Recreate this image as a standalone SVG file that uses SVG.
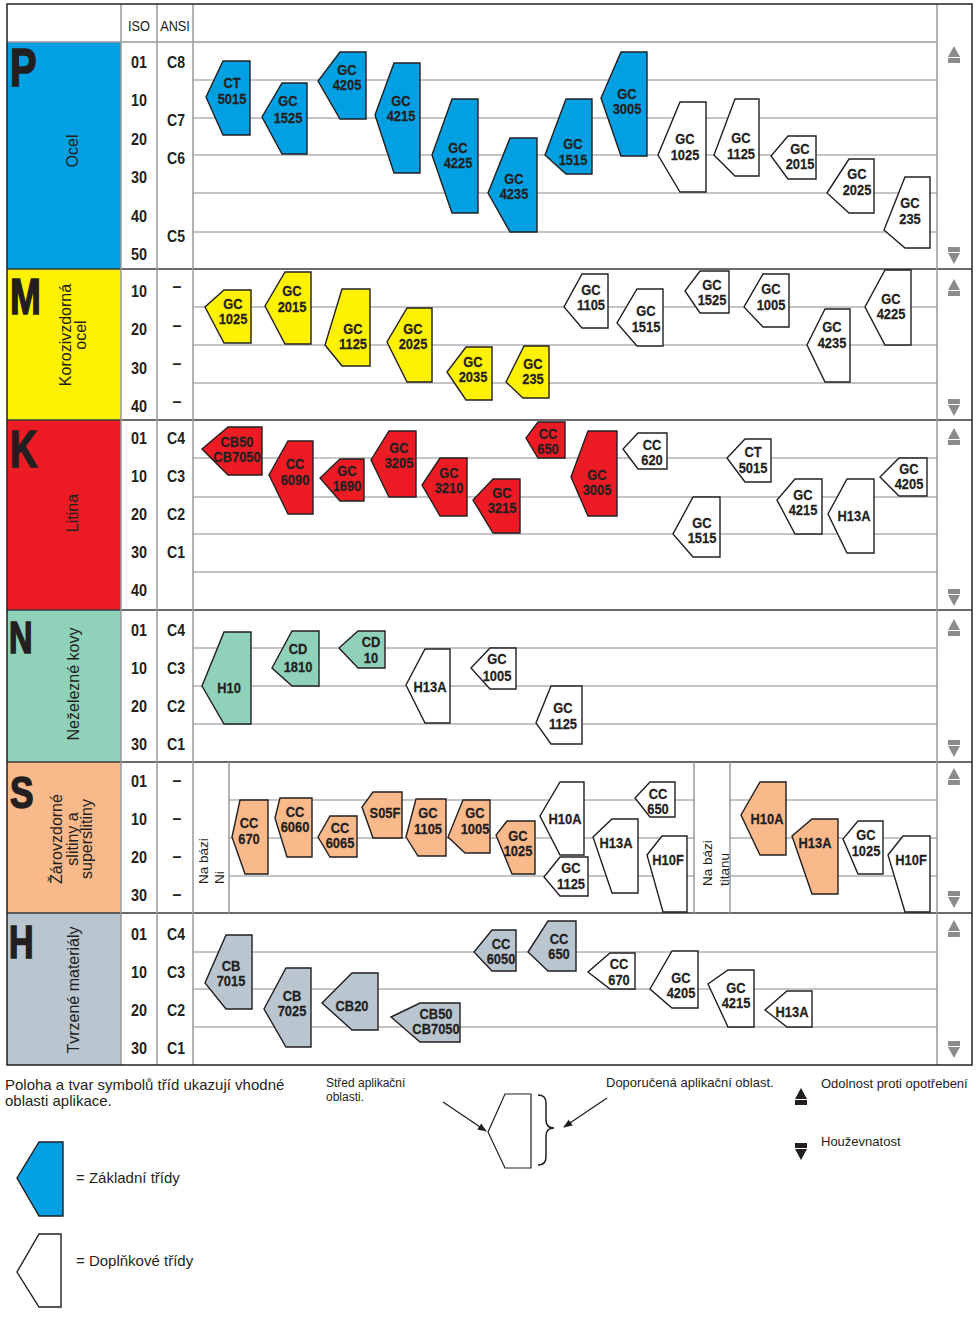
<svg xmlns="http://www.w3.org/2000/svg" width="976" height="1326" viewBox="0 0 976 1326">
<style>
.bg{fill:#fff}
.fr{fill:none;stroke:#231f20;stroke-width:1.5}
.sec{stroke:#3a3a3a;stroke-width:1.3}
.col{stroke:#9a9a9a;stroke-width:1.5}
.gl{stroke:#8a8a8a;stroke-width:1}
.sh{stroke:#231f20;stroke-width:1.4;stroke-linejoin:miter}
.b{fill:#00a0e3}.y{fill:#fff200}.r{fill:#ed1c24}.n{fill:#8fd1b9}.s{fill:#f9b98b}.h{fill:#b9c5cf}.w{fill:#fff}
.t{font-family:"Liberation Sans",Arial,sans-serif;font-weight:700;font-size:15px;fill:#231f20;stroke:#231f20;stroke-width:.25;text-anchor:middle}
.l{font-family:"Liberation Sans",Arial,sans-serif;font-weight:700;font-size:16px;fill:#231f20;text-anchor:middle}
.hd{font-family:"Liberation Sans",Arial,sans-serif;font-size:15px;fill:#231f20;text-anchor:middle}
.big{font-family:"Liberation Sans",Arial,sans-serif;font-weight:900;fill:#231f20;stroke:#231f20;stroke-width:1.6}
.v{font-family:"Liberation Sans",Arial,sans-serif;font-size:16px;fill:#231f20;text-anchor:middle}
.nb{font-family:"Liberation Sans",Arial,sans-serif;font-size:13.5px;fill:#231f20;text-anchor:start}
.lg{font-family:"Liberation Sans",Arial,sans-serif;fill:#231f20}
.ga{fill:#8c8c8c}
.ka{fill:#231f20}
.cn{stroke:#231f20;stroke-width:1.3;fill:none}
</style>
<defs>
<g id="up"><polygon points="0,0 6,11 -6,11"/><rect x="-6" y="12" width="12" height="5"/></g>
<g id="dn"><rect x="-6" y="0" width="12" height="5"/><polygon points="-6,6 6,6 0,17"/></g>
<marker id="ah" viewBox="0 0 10 10" refX="9" refY="5" markerWidth="7" markerHeight="7" orient="auto"><path d="M0,1 L10,5 L0,9 z" fill="#231f20"/></marker>
</defs>
<rect class="bg" x="0" y="0" width="976" height="1326"/>

<g id="frame">
<rect x="7" y="42" width="114" height="227" class="b"/>
<rect x="7" y="269" width="114" height="151" class="y"/>
<rect x="7" y="420" width="114" height="190" class="r"/>
<rect x="7" y="610" width="114" height="152" class="n"/>
<rect x="7" y="762" width="114" height="151" class="s"/>
<rect x="7" y="913" width="114" height="152" class="h"/>
<line x1="7" y1="42" x2="937" y2="42" class="col"/>
<line x1="7" y1="269" x2="972" y2="269" class="sec"/>
<line x1="7" y1="420" x2="972" y2="420" class="sec"/>
<line x1="7" y1="610" x2="972" y2="610" class="sec"/>
<line x1="7" y1="762" x2="972" y2="762" class="sec"/>
<line x1="7" y1="913" x2="972" y2="913" class="sec"/>
<line x1="121" y1="4" x2="121" y2="1065" class="col"/>
<line x1="157" y1="4" x2="157" y2="1065" class="col"/>
<line x1="193" y1="4" x2="193" y2="1065" class="col"/>
<line x1="937" y1="4" x2="937" y2="1065" class="col"/>
<line x1="229" y1="762" x2="229" y2="913" class="col"/>
<line x1="694" y1="762" x2="694" y2="913" class="col"/>
<line x1="730" y1="762" x2="730" y2="913" class="col"/>
<rect x="7" y="4" width="965" height="1061" class="fr"/>
</g>

<g id="grid">
<line x1="193" y1="80" x2="937" y2="80" class="gl"/>
<line x1="193" y1="118" x2="937" y2="118" class="gl"/>
<line x1="193" y1="155" x2="937" y2="155" class="gl"/>
<line x1="193" y1="193" x2="937" y2="193" class="gl"/>
<line x1="193" y1="232" x2="937" y2="232" class="gl"/>
<line x1="193" y1="307" x2="937" y2="307" class="gl"/>
<line x1="193" y1="345" x2="937" y2="345" class="gl"/>
<line x1="193" y1="383" x2="937" y2="383" class="gl"/>
<line x1="193" y1="458" x2="937" y2="458" class="gl"/>
<line x1="193" y1="497" x2="937" y2="497" class="gl"/>
<line x1="193" y1="534" x2="937" y2="534" class="gl"/>
<line x1="193" y1="572" x2="937" y2="572" class="gl"/>
<line x1="193" y1="648" x2="937" y2="648" class="gl"/>
<line x1="193" y1="686" x2="937" y2="686" class="gl"/>
<line x1="193" y1="724" x2="937" y2="724" class="gl"/>
<line x1="229" y1="800" x2="694" y2="800" class="gl"/>
<line x1="229" y1="838" x2="694" y2="838" class="gl"/>
<line x1="229" y1="876" x2="694" y2="876" class="gl"/>
<line x1="730" y1="800" x2="937" y2="800" class="gl"/>
<line x1="730" y1="838" x2="937" y2="838" class="gl"/>
<line x1="730" y1="876" x2="937" y2="876" class="gl"/>
<line x1="193" y1="952" x2="937" y2="952" class="gl"/>
<line x1="193" y1="989" x2="937" y2="989" class="gl"/>
<line x1="193" y1="1027" x2="937" y2="1027" class="gl"/>
</g>

<g id="header">
<text class="hd" transform="translate(139,30.5) scale(.85 1)">ISO</text>
<text class="hd" transform="translate(175,30.5) scale(.85 1)">ANSI</text>
</g>

<g id="materials">
<text class="big" font-size="54" transform="translate(10,86) scale(.74 1)">P</text>
<text class="big" font-size="50" transform="translate(10,314) scale(.74 1)">M</text>
<text class="big" font-size="51" transform="translate(10,467) scale(.74 1)">K</text>
<text class="big" font-size="44" transform="translate(9,653) scale(.74 1)">N</text>
<text class="big" font-size="44" transform="translate(10,808) scale(.8 1)">S</text>
<text class="big" font-size="46" transform="translate(9,958) scale(.74 1)">H</text>
<text class="v" transform="translate(78,151) rotate(-90)">Ocel</text>
<text class="v" transform="translate(71,335) rotate(-90)">Korozivzdorná</text>
<text class="v" transform="translate(86,335) rotate(-90)">ocel</text>
<text class="v" transform="translate(78,513) rotate(-90)">Litina</text>
<text class="v" transform="translate(79,684) rotate(-90)">Neželezné kovy</text>
<text class="v" transform="translate(62,839) rotate(-90)">Žárovzdorné</text>
<text class="v" transform="translate(77.5,839) rotate(-90)">slitiny a</text>
<text class="v" transform="translate(92,839) rotate(-90)">superslitiny</text>
<text class="v" transform="translate(79,990) rotate(-90)">Tvrzené materiály</text>
<text class="nb" transform="translate(208,884) rotate(-90)">Na bázi</text>
<text class="nb" transform="translate(224,884) rotate(-90)">Ni</text>
<text class="nb" transform="translate(712,886) rotate(-90)">Na bázi</text>
<text class="nb" transform="translate(729,886) rotate(-90)">titanu</text>
</g>

<g id="scale">
<text class="l" transform="translate(139,68) scale(.9 1)">01</text>
<text class="l" transform="translate(139,106) scale(.9 1)">10</text>
<text class="l" transform="translate(139,145) scale(.9 1)">20</text>
<text class="l" transform="translate(139,183) scale(.9 1)">30</text>
<text class="l" transform="translate(139,222) scale(.9 1)">40</text>
<text class="l" transform="translate(139,260) scale(.9 1)">50</text>
<text class="l" transform="translate(176,68) scale(.88 1)">C8</text>
<text class="l" transform="translate(176,126) scale(.88 1)">C7</text>
<text class="l" transform="translate(176,164) scale(.88 1)">C6</text>
<text class="l" transform="translate(176,242) scale(.88 1)">C5</text>
<text class="l" transform="translate(139,297) scale(.9 1)">10</text>
<text class="l" transform="translate(139,335) scale(.9 1)">20</text>
<text class="l" transform="translate(139,374) scale(.9 1)">30</text>
<text class="l" transform="translate(139,412) scale(.9 1)">40</text>
<text class="l" transform="translate(177,292)">–</text>
<text class="l" transform="translate(177,331)">–</text>
<text class="l" transform="translate(177,369)">–</text>
<text class="l" transform="translate(177,407)">–</text>
<text class="l" transform="translate(139,444) scale(.9 1)">01</text>
<text class="l" transform="translate(139,482) scale(.9 1)">10</text>
<text class="l" transform="translate(139,520) scale(.9 1)">20</text>
<text class="l" transform="translate(139,558) scale(.9 1)">30</text>
<text class="l" transform="translate(139,596) scale(.9 1)">40</text>
<text class="l" transform="translate(176,444) scale(.88 1)">C4</text>
<text class="l" transform="translate(176,482) scale(.88 1)">C3</text>
<text class="l" transform="translate(176,520) scale(.88 1)">C2</text>
<text class="l" transform="translate(176,558) scale(.88 1)">C1</text>
<text class="l" transform="translate(139,636) scale(.9 1)">01</text>
<text class="l" transform="translate(139,674) scale(.9 1)">10</text>
<text class="l" transform="translate(139,712) scale(.9 1)">20</text>
<text class="l" transform="translate(139,750) scale(.9 1)">30</text>
<text class="l" transform="translate(176,636) scale(.88 1)">C4</text>
<text class="l" transform="translate(176,674) scale(.88 1)">C3</text>
<text class="l" transform="translate(176,712) scale(.88 1)">C2</text>
<text class="l" transform="translate(176,750) scale(.88 1)">C1</text>
<text class="l" transform="translate(139,787) scale(.9 1)">01</text>
<text class="l" transform="translate(139,825) scale(.9 1)">10</text>
<text class="l" transform="translate(139,863) scale(.9 1)">20</text>
<text class="l" transform="translate(139,901) scale(.9 1)">30</text>
<text class="l" transform="translate(177,786)">–</text>
<text class="l" transform="translate(177,824)">–</text>
<text class="l" transform="translate(177,862)">–</text>
<text class="l" transform="translate(177,900)">–</text>
<text class="l" transform="translate(139,940) scale(.9 1)">01</text>
<text class="l" transform="translate(139,978) scale(.9 1)">10</text>
<text class="l" transform="translate(139,1016) scale(.9 1)">20</text>
<text class="l" transform="translate(139,1054) scale(.9 1)">30</text>
<text class="l" transform="translate(176,940) scale(.88 1)">C4</text>
<text class="l" transform="translate(176,978) scale(.88 1)">C3</text>
<text class="l" transform="translate(176,1016) scale(.88 1)">C2</text>
<text class="l" transform="translate(176,1054) scale(.88 1)">C1</text>
</g>

<g id="trend" class="ga">
<use href="#up" x="954" y="46"/><use href="#dn" x="954" y="247"/>
<use href="#up" x="954" y="279"/><use href="#dn" x="954" y="399"/>
<use href="#up" x="954" y="428"/><use href="#dn" x="954" y="589"/>
<use href="#up" x="954" y="619"/><use href="#dn" x="954" y="740"/>
<use href="#up" x="954" y="768"/><use href="#dn" x="954" y="891"/>
<use href="#up" x="954" y="920"/><use href="#dn" x="954" y="1041"/>
</g>

<!-- P -->
<g id="P-CT5015"><polygon class="sh b" points="223,61 250,61 250,135 223,135 206,97"/><text class="t" transform="translate(232,87.5) scale(.86 1)">CT</text><text class="t" transform="translate(232,103.5) scale(.86 1)">5015</text></g>
<g id="P-GC1525"><polygon class="sh b" points="282,83 307,83 307,154 282,154 262,117"/><text class="t" transform="translate(288,105.5) scale(.86 1)">GC</text><text class="t" transform="translate(288,122.5) scale(.86 1)">1525</text></g>
<g id="P-GC4205"><polygon class="sh b" points="340,52 366,52 366,119 340,119 318,81"/><text class="t" transform="translate(347,74.5) scale(.86 1)">GC</text><text class="t" transform="translate(347,89.5) scale(.86 1)">4205</text></g>
<g id="P-GC4215"><polygon class="sh b" points="394,63 420,63 420,173 394,173 375,115"/><text class="t" transform="translate(401,105.5) scale(.86 1)">GC</text><text class="t" transform="translate(401,120.5) scale(.86 1)">4215</text></g>
<g id="P-GC4225"><polygon class="sh b" points="452,99 478,99 478,213 452,213 432,155"/><text class="t" transform="translate(458,152.5) scale(.86 1)">GC</text><text class="t" transform="translate(458,167.5) scale(.86 1)">4225</text></g>
<g id="P-GC4235"><polygon class="sh b" points="510,138 537,138 537,232 510,232 488,193"/><text class="t" transform="translate(514,183.5) scale(.86 1)">GC</text><text class="t" transform="translate(514,198.5) scale(.86 1)">4235</text></g>
<g id="P-GC1515"><polygon class="sh b" points="566,99 592,99 592,174 566,174 545,155"/><text class="t" transform="translate(573,148.5) scale(.86 1)">GC</text><text class="t" transform="translate(573,164.5) scale(.86 1)">1515</text></g>
<g id="P-GC3005"><polygon class="sh b" points="621,52 647,52 647,156 621,156 601,98"/><text class="t" transform="translate(627,98.5) scale(.86 1)">GC</text><text class="t" transform="translate(627,113.5) scale(.86 1)">3005</text></g>
<g id="P-GC1025"><polygon class="sh w" points="680,102 706,102 706,192 680,192 658,155"/><text class="t" transform="translate(685,143.5) scale(.86 1)">GC</text><text class="t" transform="translate(685,159.5) scale(.86 1)">1025</text></g>
<g id="P-GC1125"><polygon class="sh w" points="735,99 759,99 759,176 735,176 714,155"/><text class="t" transform="translate(741,142.5) scale(.86 1)">GC</text><text class="t" transform="translate(741,158.5) scale(.86 1)">1125</text></g>
<g id="P-GC2015"><polygon class="sh w" points="788,136 816,136 816,179 788,179 771,156"/><text class="t" transform="translate(800,153.5) scale(.86 1)">GC</text><text class="t" transform="translate(800,168.5) scale(.86 1)">2015</text></g>
<g id="P-GC2025"><polygon class="sh w" points="849,159 874,159 874,213 849,213 827,193"/><text class="t" transform="translate(857,178.5) scale(.86 1)">GC</text><text class="t" transform="translate(857,194.5) scale(.86 1)">2025</text></g>
<g id="P-GC235"><polygon class="sh w" points="905,177 930,177 930,248 905,248 884,230"/><text class="t" transform="translate(910,207.5) scale(.86 1)">GC</text><text class="t" transform="translate(910,223.5) scale(.86 1)">235</text></g>

<!-- M -->
<g id="M-GC1025"><polygon class="sh y" points="224,290 251,290 251,343 224,343 205,307"/><text class="t" transform="translate(233,308.5) scale(.86 1)">GC</text><text class="t" transform="translate(233,323.5) scale(.86 1)">1025</text></g>
<g id="M-GC2015"><polygon class="sh y" points="285,272 311,272 311,344 285,344 265,306"/><text class="t" transform="translate(292,295.5) scale(.86 1)">GC</text><text class="t" transform="translate(292,311.5) scale(.86 1)">2015</text></g>
<g id="M-GC1125"><polygon class="sh y" points="342,289 370,289 370,366 342,366 325,345"/><text class="t" transform="translate(353,333.5) scale(.86 1)">GC</text><text class="t" transform="translate(353,348.5) scale(.86 1)">1125</text></g>
<g id="M-GC2025"><polygon class="sh y" points="407,308 432,308 432,382 407,382 387,342"/><text class="t" transform="translate(413,333.5) scale(.86 1)">GC</text><text class="t" transform="translate(413,348.5) scale(.86 1)">2025</text></g>
<g id="M-GC2035"><polygon class="sh y" points="466,347 492,347 492,400 466,400 447,372"/><text class="t" transform="translate(473,366.5) scale(.86 1)">GC</text><text class="t" transform="translate(473,381.5) scale(.86 1)">2035</text></g>
<g id="M-GC235"><polygon class="sh y" points="524,346 549,346 549,398 523,398 506,382"/><text class="t" transform="translate(533,368.5) scale(.86 1)">GC</text><text class="t" transform="translate(533,383.5) scale(.86 1)">235</text></g>
<g id="M-GC1105"><polygon class="sh w" points="582,274 608,274 608,328 582,328 564,307"/><text class="t" transform="translate(591,294.5) scale(.86 1)">GC</text><text class="t" transform="translate(591,309.5) scale(.86 1)">1105</text></g>
<g id="M-GC1515"><polygon class="sh w" points="637,289 663,289 663,346 637,346 617,323"/><text class="t" transform="translate(646,315.5) scale(.86 1)">GC</text><text class="t" transform="translate(646,331.5) scale(.86 1)">1515</text></g>
<g id="M-GC1525"><polygon class="sh w" points="700,271 729,271 729,313 700,313 685,291"/><text class="t" transform="translate(712,289.5) scale(.86 1)">GC</text><text class="t" transform="translate(712,304.5) scale(.86 1)">1525</text></g>
<g id="M-GC1005"><polygon class="sh w" points="763,274 789,274 789,327 763,327 744,307"/><text class="t" transform="translate(771,293.5) scale(.86 1)">GC</text><text class="t" transform="translate(771,309.5) scale(.86 1)">1005</text></g>
<g id="M-GC4235"><polygon class="sh w" points="825,309 850,309 850,382 825,382 807,345"/><text class="t" transform="translate(832,331.5) scale(.86 1)">GC</text><text class="t" transform="translate(832,347.5) scale(.86 1)">4235</text></g>
<g id="M-GC4225"><polygon class="sh w" points="885,270 911,270 911,345 885,345 865,307"/><text class="t" transform="translate(891,303.5) scale(.86 1)">GC</text><text class="t" transform="translate(891,318.5) scale(.86 1)">4225</text></g>

<!-- K -->
<g id="K-CB50"><polygon class="sh r" points="228,427 262,427 262,475 228,475 202,449"/><text class="t" transform="translate(237,446.5) scale(.86 1)">CB50</text><text class="t" transform="translate(237,461.5) scale(.86 1)">CB7050</text></g>
<g id="K-CC6090"><polygon class="sh r" points="288,441 313,441 313,514 288,514 269,475"/><text class="t" transform="translate(295,468.5) scale(.86 1)">CC</text><text class="t" transform="translate(295,484.5) scale(.86 1)">6090</text></g>
<g id="K-GC1690"><polygon class="sh r" points="340,459 364,459 364,501 340,501 320,478"/><text class="t" transform="translate(347,475.5) scale(.86 1)">GC</text><text class="t" transform="translate(347,490.5) scale(.86 1)">1690</text></g>
<g id="K-GC3205"><polygon class="sh r" points="389,431 416,431 416,497 389,497 371,460"/><text class="t" transform="translate(399,452.5) scale(.86 1)">GC</text><text class="t" transform="translate(399,467.5) scale(.86 1)">3205</text></g>
<g id="K-GC3210"><polygon class="sh r" points="440,458 467,458 467,516 440,516 422,485"/><text class="t" transform="translate(449,477.5) scale(.86 1)">GC</text><text class="t" transform="translate(449,492.5) scale(.86 1)">3210</text></g>
<g id="K-GC3215"><polygon class="sh r" points="493,479 520,479 520,533 493,533 473,500"/><text class="t" transform="translate(502,497.5) scale(.86 1)">GC</text><text class="t" transform="translate(502,512.5) scale(.86 1)">3215</text></g>
<g id="K-CC650"><polygon class="sh r" points="538,422 565,422 565,458 538,458 526,438"/><text class="t" transform="translate(548,438.5) scale(.86 1)">CC</text><text class="t" transform="translate(548,453.5) scale(.86 1)">650</text></g>
<g id="K-GC3005"><polygon class="sh r" points="588,431 617,431 617,516 588,516 571,477"/><text class="t" transform="translate(597,479.5) scale(.86 1)">GC</text><text class="t" transform="translate(597,494.5) scale(.86 1)">3005</text></g>
<g id="K-CC620"><polygon class="sh w" points="638,433 667,433 667,469 638,469 623,449"/><text class="t" transform="translate(652,449.5) scale(.86 1)">CC</text><text class="t" transform="translate(652,464.5) scale(.86 1)">620</text></g>
<g id="K-CT5015"><polygon class="sh w" points="745,439 771,439 771,482 745,482 727,458"/><text class="t" transform="translate(753,456.5) scale(.86 1)">CT</text><text class="t" transform="translate(753,472.5) scale(.86 1)">5015</text></g>
<g id="K-GC1515"><polygon class="sh w" points="693,497 720,497 720,557 693,557 673,534"/><text class="t" transform="translate(702,527.5) scale(.86 1)">GC</text><text class="t" transform="translate(702,542.5) scale(.86 1)">1515</text></g>
<g id="K-GC4215"><polygon class="sh w" points="795,479 822,479 822,534 795,534 777,500"/><text class="t" transform="translate(803,499.5) scale(.86 1)">GC</text><text class="t" transform="translate(803,514.5) scale(.86 1)">4215</text></g>
<g id="K-H13A"><polygon class="sh w" points="847,479 874,479 874,553 847,553 828,514"/><text class="t" transform="translate(854,520.5) scale(.86 1)">H13A</text></g>
<g id="K-GC4205"><polygon class="sh w" points="899,458 927,458 927,496 899,496 880,477"/><text class="t" transform="translate(909,473.5) scale(.86 1)">GC</text><text class="t" transform="translate(909,488.5) scale(.86 1)">4205</text></g>

<!-- N -->
<g id="N-H10"><polygon class="sh n" points="224,632 251,632 251,724 224,724 202,686"/><text class="t" transform="translate(229,692.5) scale(.86 1)">H10</text></g>
<g id="N-CD1810"><polygon class="sh n" points="292,631 319,631 319,686 292,686 272,668"/><text class="t" transform="translate(298,653.5) scale(.86 1)">CD</text><text class="t" transform="translate(298,671.5) scale(.86 1)">1810</text></g>
<g id="N-CD10"><polygon class="sh n" points="358,631 385,631 385,668 358,668 339,648"/><text class="t" transform="translate(371,646.5) scale(.86 1)">CD</text><text class="t" transform="translate(371,663) scale(.86 1)">10</text></g>
<g id="N-H13A"><polygon class="sh w" points="425,649 450,649 450,723 425,723 406,685"/><text class="t" transform="translate(430,691.5) scale(.86 1)">H13A</text></g>
<g id="N-GC1005"><polygon class="sh w" points="490,648 516,648 516,689 490,689 471,668"/><text class="t" transform="translate(497,663.5) scale(.86 1)">GC</text><text class="t" transform="translate(497,680.5) scale(.86 1)">1005</text></g>
<g id="N-GC1125"><polygon class="sh w" points="551,686 582,686 582,744 551,744 536,723"/><text class="t" transform="translate(563,712.5) scale(.86 1)">GC</text><text class="t" transform="translate(563,728.5) scale(.86 1)">1125</text></g>

<!-- S -->
<g id="S-CC670"><polygon class="sh s" points="240,800 268,800 268,874 245,874 232,837"/><text class="t" transform="translate(249,827.5) scale(.86 1)">CC</text><text class="t" transform="translate(249,843.5) scale(.86 1)">670</text></g>
<g id="S-CC6060"><polygon class="sh s" points="280,798 312,798 312,857 287,857 275,818"/><text class="t" transform="translate(295,816.5) scale(.86 1)">CC</text><text class="t" transform="translate(295,831.5) scale(.86 1)">6060</text></g>
<g id="S-CC6065"><polygon class="sh s" points="330,816 357,816 357,857 330,857 318,837"/><text class="t" transform="translate(340,832.5) scale(.86 1)">CC</text><text class="t" transform="translate(340,847.5) scale(.86 1)">6065</text></g>
<g id="S-S05F"><polygon class="sh s" points="373,792 402,792 402,838 373,838 362,807"/><text class="t" transform="translate(385,817.5) scale(.86 1)">S05F</text></g>
<g id="S-GC1105"><polygon class="sh s" points="416,799 446,799 446,856 418,856 406,837"/><text class="t" transform="translate(428,817.5) scale(.86 1)">GC</text><text class="t" transform="translate(428,833.5) scale(.86 1)">1105</text></g>
<g id="S-GC1005"><polygon class="sh s" points="463,800 490,800 490,853 465,853 448,837"/><text class="t" transform="translate(475,817.5) scale(.86 1)">GC</text><text class="t" transform="translate(475,833.5) scale(.86 1)">1005</text></g>
<g id="S-GC1025"><polygon class="sh s" points="507,821 535,821 535,874 512,874 496,835"/><text class="t" transform="translate(518,840.5) scale(.86 1)">GC</text><text class="t" transform="translate(518,855.5) scale(.86 1)">1025</text></g>
<g id="S-H10A"><polygon class="sh w" points="560,782 584,782 584,855 560,855 540,816"/><text class="t" transform="translate(565,823.5) scale(.86 1)">H10A</text></g>
<g id="S-GC1125"><polygon class="sh w" points="560,857 588,857 588,896 560,896 544,877"/><text class="t" transform="translate(571,872.5) scale(.86 1)">GC</text><text class="t" transform="translate(571,888.5) scale(.86 1)">1125</text></g>
<g id="S-CC650"><polygon class="sh w" points="650,782 675,782 675,817 650,817 635,798"/><text class="t" transform="translate(658,798.5) scale(.86 1)">CC</text><text class="t" transform="translate(658,813.5) scale(.86 1)">650</text></g>
<g id="S-H13A"><polygon class="sh w" points="612,819 638,819 638,893 612,893 593,837"/><text class="t" transform="translate(616,847.5) scale(.86 1)">H13A</text></g>
<g id="S-H10F"><polygon class="sh w" points="662,836 687,836 687,912 663,912 647,855"/><text class="t" transform="translate(668,864.5) scale(.86 1)">H10F</text></g>
<g id="S-Ti-H10A"><polygon class="sh s" points="760,782 786,782 786,855 760,855 741,815"/><text class="t" transform="translate(767,823.5) scale(.86 1)">H10A</text></g>
<g id="S-Ti-H13A"><polygon class="sh s" points="812,819 838,819 838,894 812,894 792,836"/><text class="t" transform="translate(815,847.5) scale(.86 1)">H13A</text></g>
<g id="S-Ti-GC1025"><polygon class="sh w" points="858,821 883,821 883,874 858,874 843,839"/><text class="t" transform="translate(866,839.5) scale(.86 1)">GC</text><text class="t" transform="translate(866,855.5) scale(.86 1)">1025</text></g>
<g id="S-Ti-H10F"><polygon class="sh w" points="903,836 930,836 930,912 905,912 888,855"/><text class="t" transform="translate(911,864.5) scale(.86 1)">H10F</text></g>

<!-- H -->
<g id="H-CB7015"><polygon class="sh h" points="226,935 252,935 252,1009 226,1009 205,983"/><text class="t" transform="translate(231,970.5) scale(.86 1)">CB</text><text class="t" transform="translate(231,985.5) scale(.86 1)">7015</text></g>
<g id="H-CB7025"><polygon class="sh h" points="286,968 311,968 311,1047 286,1047 264,1009"/><text class="t" transform="translate(292,1000.5) scale(.86 1)">CB</text><text class="t" transform="translate(292,1015.5) scale(.86 1)">7025</text></g>
<g id="H-CB20"><polygon class="sh h" points="352,973 378,973 378,1030 352,1030 322,1003"/><text class="t" transform="translate(352,1010.5) scale(.86 1)">CB20</text></g>
<g id="H-CB50"><polygon class="sh h" points="420,1003 460,1003 460,1042 420,1042 391,1017"/><text class="t" transform="translate(436,1018.5) scale(.86 1)">CB50</text><text class="t" transform="translate(436,1033.5) scale(.86 1)">CB7050</text></g>
<g id="H-CC6050"><polygon class="sh h" points="492,930 516,930 516,971 492,971 474,952"/><text class="t" transform="translate(501,948.5) scale(.86 1)">CC</text><text class="t" transform="translate(501,963.5) scale(.86 1)">6050</text></g>
<g id="H-CC650"><polygon class="sh h" points="548,921 576,921 576,971 548,971 528,952"/><text class="t" transform="translate(559,943.5) scale(.86 1)">CC</text><text class="t" transform="translate(559,958.5) scale(.86 1)">650</text></g>
<g id="H-CC670"><polygon class="sh w" points="610,953 635,953 635,989 610,989 588,972"/><text class="t" transform="translate(619,968.5) scale(.86 1)">CC</text><text class="t" transform="translate(619,984.5) scale(.86 1)">670</text></g>
<g id="H-GC4205"><polygon class="sh w" points="672,951 698,951 698,1008 672,1008 650,989"/><text class="t" transform="translate(681,982.5) scale(.86 1)">GC</text><text class="t" transform="translate(681,997.5) scale(.86 1)">4205</text></g>
<g id="H-GC4215"><polygon class="sh w" points="728,970 754,970 754,1027 728,1027 708,984"/><text class="t" transform="translate(736,992.5) scale(.86 1)">GC</text><text class="t" transform="translate(736,1007.5) scale(.86 1)">4215</text></g>
<g id="H-H13A"><polygon class="sh w" points="787,991 812,991 812,1027 787,1027 765,1010"/><text class="t" transform="translate(792,1016.5) scale(.86 1)">H13A</text></g>

<!-- legend -->
<g id="legend">
<text class="lg" x="5" y="1090" font-size="15">Poloha a tvar symbolů tříd ukazují vhodné</text>
<text class="lg" x="5" y="1106" font-size="15">oblasti aplikace.</text>
<text class="lg" x="326" y="1087" font-size="12">Střed aplikační</text>
<text class="lg" x="326" y="1101" font-size="12">oblasti.</text>
<text class="lg" x="606" y="1087" font-size="13">Doporučená aplikační oblast.</text>
<text class="lg" x="821" y="1088" font-size="13">Odolnost proti opotřebení</text>
<text class="lg" x="821" y="1146" font-size="13">Houževnatost</text>
<g class="ka"><use href="#up" x="801" y="1088"/><use href="#dn" x="801" y="1143"/></g>
</g>
<g id="legend-sample"><polygon points="505,1094 531,1094 531,1168 505,1168 488,1132" fill="#fff" stroke="#231f20" stroke-width="1.2"/></g>
<g id="legend-brace"><path d="M538,1095 Q546,1095 546,1103 V1120 Q546,1128 554,1128 Q546,1128 546,1136 V1157 Q546,1165 538,1165" fill="none" stroke="#231f20" stroke-width="1.5"/></g>
<g id="legend-base"><polygon class="sh b" points="39,1142 63,1142 63,1216 39,1216 17,1178"/><text class="lg" x="76" y="1183" font-size="15">= Základní třídy</text></g>
<g id="legend-extra"><polygon class="sh w" points="39,1234 61,1234 61,1307 39,1307 17,1272"/><text class="lg" x="76" y="1266" font-size="15">= Doplňkové třídy</text></g>

<g id="connectors">
<line x1="443" y1="1102" x2="486" y2="1131" class="cn" marker-end="url(#ah)"/>
<line x1="607" y1="1098" x2="564" y2="1127" class="cn" marker-end="url(#ah)"/>
</g>
</svg>
